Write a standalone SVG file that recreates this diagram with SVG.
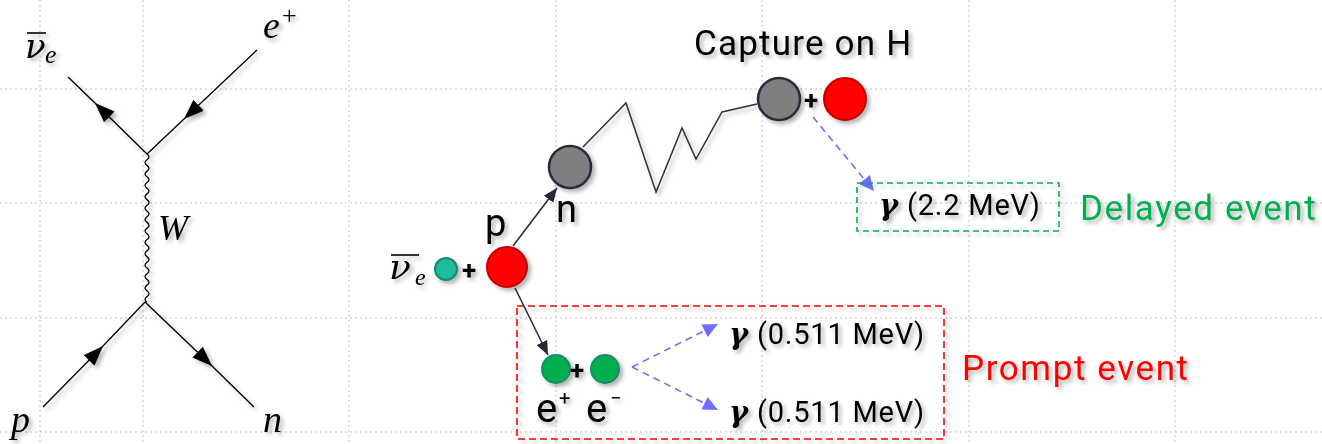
<svg xmlns="http://www.w3.org/2000/svg" width="1322" height="444" viewBox="0 0 1322 444">
<style>
.grid line{stroke:#d6d6d6;stroke-width:1.5;stroke-dasharray:2 3}
.fl{fill:none;stroke:#000;stroke-width:1.3}
.math{font-family:"Liberation Serif","DejaVu Serif",serif;font-style:italic;fill:#000}
.nu{font-family:"DejaVu Serif","Liberation Serif",serif;font-style:italic;fill:#000}
.lbl{font-family:Roboto,"Noto Sans",sans-serif;fill:#000}
.big{font-size:35px;letter-spacing:1.6px}
.plus{font-family:Roboto,"Noto Sans",sans-serif;font-weight:bold;font-size:26px;fill:#000}
.gam{font-family:Roboto,"Noto Sans",sans-serif;font-size:29px;letter-spacing:0.8px;fill:#000}
.gam tspan.g{font-weight:bold;font-style:italic;font-family:"DejaVu Serif","Liberation Serif",serif;font-size:29px}
.dark{stroke:#262636;stroke-width:1.5;fill:none}
.blue{stroke:#6f6cff;stroke-width:1.6;fill:none;stroke-dasharray:7 5}
.gray{fill:#7f7f7f;stroke:#2a2a3a;stroke-width:2.5}
.red{fill:#ff0000;stroke:#c00000;stroke-width:2}
.grn{fill:#00b050;stroke:#1b8a6b;stroke-width:2}
</style>
<defs>
<filter id="sh" x="-20%" y="-20%" width="150%" height="150%">
<feDropShadow dx="3" dy="3" stdDeviation="2" flood-color="#000" flood-opacity="0.3"/>
</filter>
<marker id="fa" viewBox="0 0 20 15" refX="20" refY="7.5" markerWidth="20" markerHeight="15" markerUnits="userSpaceOnUse" orient="auto">
<path d="M0,0 L20,7.5 L0,15 Z" fill="#000"/>
</marker>
<marker id="da" viewBox="0 0 14 12" refX="14" refY="6" markerWidth="14" markerHeight="12" markerUnits="userSpaceOnUse" orient="auto">
<path d="M0,0 L14,6 L0,12 Z" fill="#262636"/>
</marker>
<marker id="ba" viewBox="0 0 15 14" refX="15" refY="7" markerWidth="15" markerHeight="14" markerUnits="userSpaceOnUse" orient="auto">
<path d="M0,0 L15,7 L0,14 Z" fill="#6f6cff"/>
</marker>
</defs>
<rect width="1322" height="444" fill="#fff"/>
<g class="grid">
<line x1="40" y1="0" x2="40" y2="444"/>
<line x1="143" y1="0" x2="143" y2="444"/>
<line x1="349" y1="0" x2="349" y2="444"/>
<line x1="556" y1="0" x2="556" y2="444"/>
<line x1="762" y1="0" x2="762" y2="444"/>
<line x1="969" y1="0" x2="969" y2="444"/>
<line x1="1175" y1="0" x2="1175" y2="444"/>
<line x1="0" y1="89" x2="1322" y2="89"/>
<line x1="0" y1="203" x2="1322" y2="203"/>
<line x1="0" y1="318" x2="1322" y2="318"/>
<line x1="0" y1="432" x2="1322" y2="432"/>
</g>

<g id="feynman" filter="url(#sh)">
<polyline class="fl" points="147,154 95,103 68,77" marker-mid="url(#fa)"/>
<polyline class="fl" points="257,50 184,119 147,154" marker-mid="url(#fa)"/>
<polyline class="fl" points="43,407 103,346 145,302" marker-mid="url(#fa)"/>
<polyline class="fl" points="145,302 212,366 254,407" marker-mid="url(#fa)"/>
<path class="fl" d="M147,154 q4,2.85 0,5.7 q-4,2.85 0,5.7 q4,2.85 0,5.7 q-4,2.85 0,5.7 q4,2.85 0,5.7 q-4,2.85 0,5.7 q4,2.85 0,5.7 q-4,2.85 0,5.7 q4,2.85 0,5.7 q-4,2.85 0,5.7 q4,2.85 0,5.7 q-4,2.85 0,5.7 q4,2.85 0,5.7 q-4,2.85 0,5.7 q4,2.85 0,5.7 q-4,2.85 0,5.7 q4,2.85 0,5.7 q-4,2.85 0,5.7 q4,2.85 0,5.7 q-4,2.85 0,5.7 q4,2.85 0,5.7 q-4,2.85 0,5.7 q4,2.85 0,5.7 q-4,2.85 0,5.7 q4,2.85 0,5.7 q-4,2.85 0,5.7"/>
<line x1="27" y1="33" x2="46" y2="33" stroke="#000" stroke-width="1.6"/>
<text class="nu" x="25" y="58" font-size="34">ν</text>
<text class="math" x="45" y="63" font-size="26">e</text>
<text class="math" x="263" y="38" font-size="38">e</text>
<text x="282" y="24" font-family="Liberation Serif,serif" font-size="26">+</text>
<text class="math" x="158" y="240" font-size="36">W</text>
<text class="math" x="11" y="432" font-size="38">p</text>
<text class="math" x="263" y="432" font-size="38">n</text>
</g>

<g id="connectors">
<line class="dark" x1="513" y1="246" x2="557" y2="188" marker-end="url(#da)"/>
<line class="dark" x1="515" y1="288" x2="548" y2="355" marker-end="url(#da)"/>
<polyline points="583,147 626,103 656,192 682,128 696,159 722,112 757,104" fill="none" stroke="#333" stroke-width="1.5" filter="url(#sh)"/>
<line class="blue" x1="813" y1="117" x2="874" y2="191" marker-end="url(#ba)"/>
<line class="blue" x1="632" y1="367" x2="718" y2="324" marker-end="url(#ba)"/>
<line class="blue" x1="632" y1="367" x2="718" y2="410" marker-end="url(#ba)"/>
</g>

<g id="nu" filter="url(#sh)">
<line x1="391" y1="255" x2="419" y2="255" stroke="#000" stroke-width="1.6"/>
<text class="nu" x="389" y="279" font-size="36">ν</text>
<text class="math" x="415" y="285" font-size="24">e</text>
<circle class="grn" cx="446" cy="269" r="11" style="fill:#1abc9c;stroke:#16866f"/>
<text class="plus" x="462" y="279">+</text>
</g>
<g id="proton" filter="url(#sh)">
<circle class="red" cx="507" cy="267" r="20"/>
<text class="lbl" x="485" y="236" font-size="38">p</text>
</g>
<g id="neutron" filter="url(#sh)">
<circle class="gray" cx="570" cy="167" r="21"/>
<text class="lbl" x="556" y="222" font-size="38">n</text>
</g>
<g id="capture" filter="url(#sh)">
<text class="lbl" x="694" y="55" font-size="35" letter-spacing="1.2">Capture on H</text>
<circle class="gray" cx="779" cy="99" r="21"/>
<text class="plus" x="804" y="109">+</text>
<circle class="red" cx="845" cy="99" r="21"/>
</g>
<g id="delayed" filter="url(#sh)">
<rect x="857" y="183" width="202" height="48" fill="none" stroke="#00b050" stroke-width="1.6" stroke-dasharray="6 4"/>
<text class="gam" x="879" y="215"><tspan class="g">γ</tspan> (2.2 MeV)</text>
<text class="lbl big" x="1080" y="220" style="fill:#00b050">Delayed event</text>
</g>
<g id="prompt" filter="url(#sh)">
<rect x="517" y="306" width="427" height="133" fill="none" stroke="#ff0000" stroke-width="1.6" stroke-dasharray="7 4"/>
<circle class="grn" cx="556" cy="369" r="14"/>
<text class="plus" x="570" y="379">+</text>
<circle class="grn" cx="605" cy="369" r="14"/>
<text class="lbl" x="536" y="422" font-size="40">e</text>
<text class="lbl" x="559" y="405" font-size="20">+</text>
<text class="lbl" x="586" y="422" font-size="40">e</text>
<text class="lbl" x="610" y="405" font-size="20">−</text>
<text class="gam" x="729" y="344"><tspan class="g">γ</tspan> (0.511 MeV)</text>
<text class="gam" x="729" y="422"><tspan class="g">γ</tspan> (0.511 MeV)</text>
<text class="lbl big" x="962" y="380" style="fill:#ff0000">Prompt event</text>
</g>
</svg>
